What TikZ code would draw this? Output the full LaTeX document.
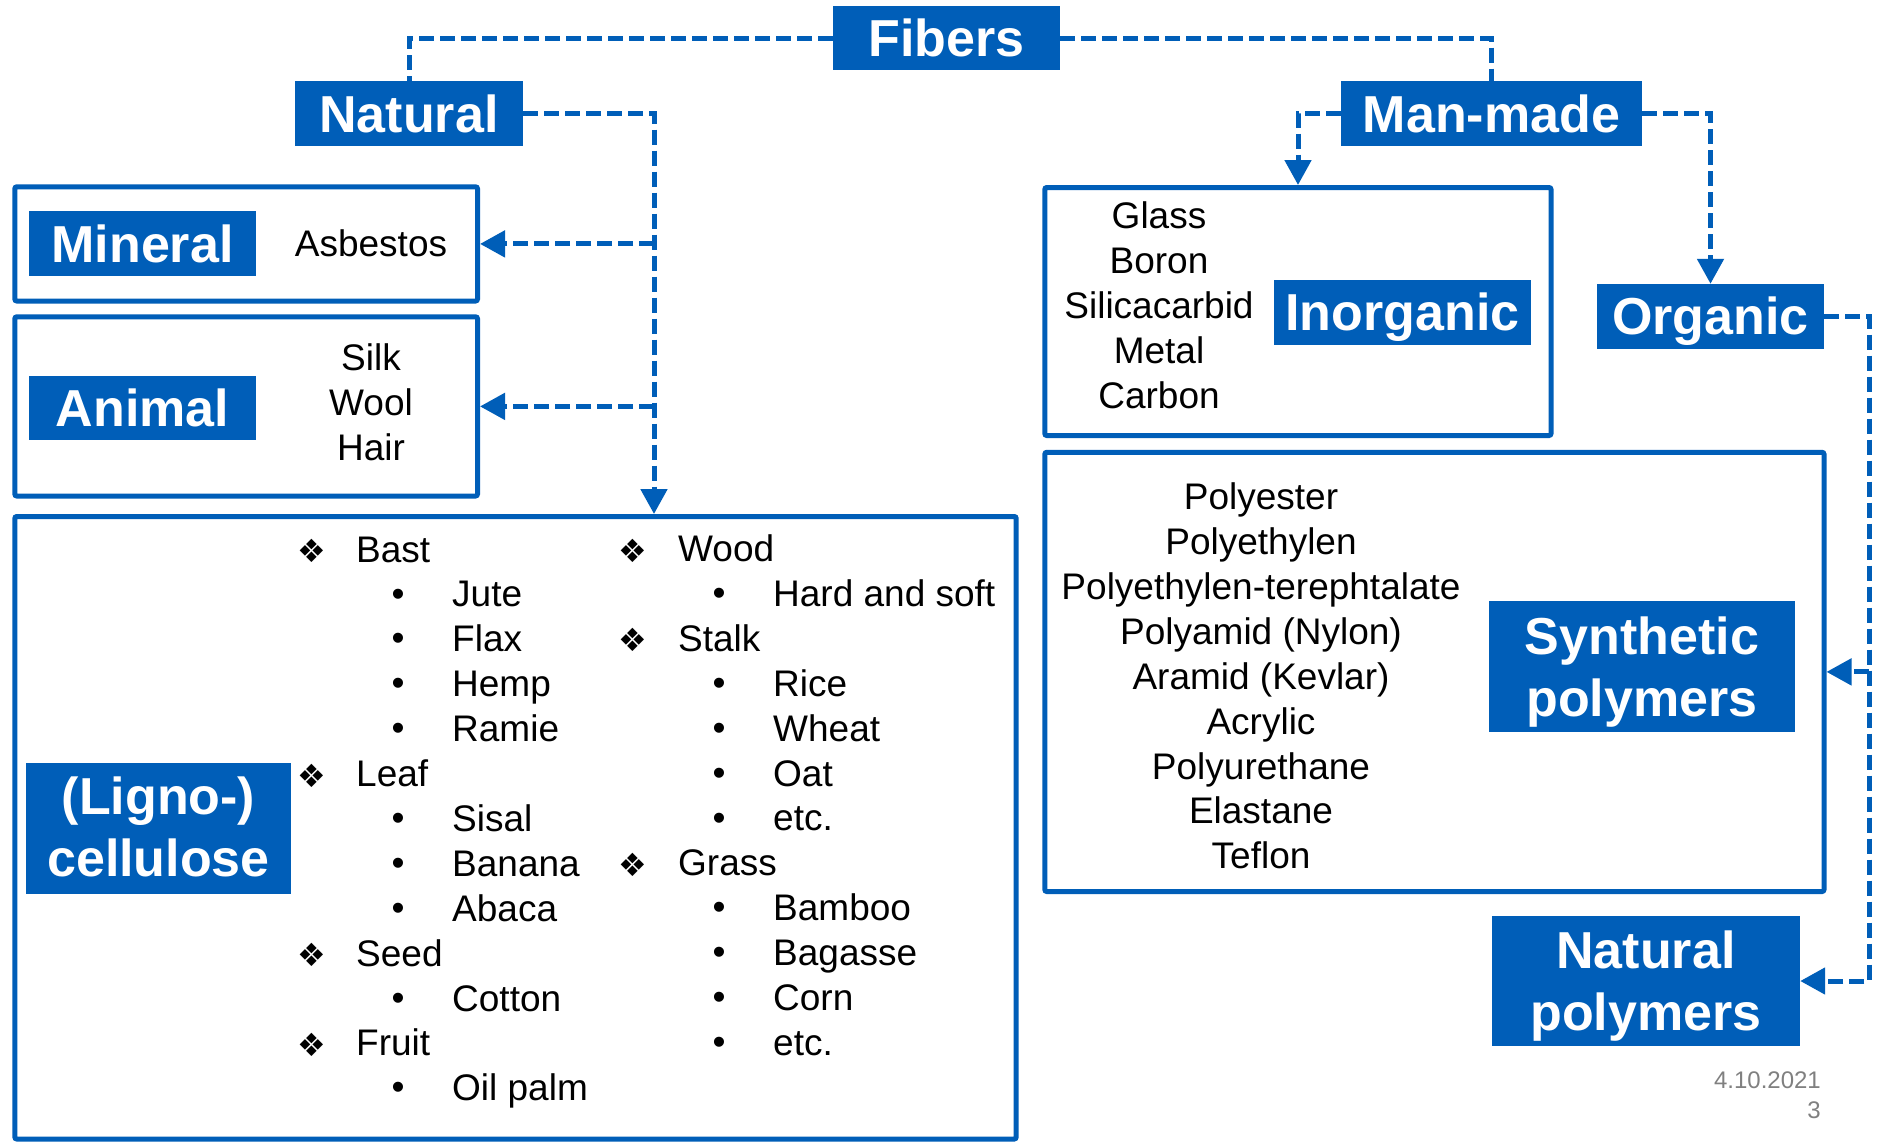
\documentclass[tikz,border=0pt]{standalone}
\usepackage{fontspec}
\setmainfont{Liberation Sans}
\newfontfamily\dejavu{DejaVu Sans}
\usetikzlibrary{arrows.meta}
\definecolor{fblue}{RGB}{0,94,184}
\definecolor{dategray}{RGB}{128,128,128}
\newcommand\capl[1]{\vphantom{N}\smash{#1}}
\tikzset{
  lab/.style={fill=fblue, text=white, inner sep=0pt, align=center,
    font=\fontsize{52pt}{62pt}\selectfont\bfseries},
  obox/.style={draw=fblue, line width=5pt, rounded corners=2pt, inner sep=0pt},
  conn/.style={draw=fblue, line width=5pt, dash pattern=on 15pt off 6pt},
  arr/.style={conn, -{Triangle[length=25pt,width=26pt]}},
  txt/.style={font=\fontsize{37pt}{45pt}\selectfont, inner sep=0pt},
  dia/.style={font=\dejavu\fontsize{32pt}{32pt}\selectfont, inner sep=0pt},
  bul/.style={font=\fontsize{37pt}{45pt}\selectfont, inner sep=0pt},
}
\begin{document}
\begin{tikzpicture}[x=1pt,y=-1pt]
\useasboundingbox (0,0) rectangle (1881,1143);
\fill[white] (0,0) rectangle (1881,1143);

% outline boxes
\node[obox, minimum width=462.7pt, minimum height=114.2pt] (minbox) at (246.15,243.9) {};
\node[obox, minimum width=462.7pt, minimum height=179.2pt] (anibox) at (246.15,406.4) {};
\node[obox, minimum width=1001.4pt, minimum height=622.5pt] (ligbox) at (515.5,827.75) {};
\node[obox, minimum width=506.2pt, minimum height=248pt] (inbox) at (1297.9,311.5) {};
\node[obox, minimum width=779.2pt, minimum height=439.2pt] (synbox) at (1434.4,671.9) {};

% labels
\node[lab, minimum width=227pt, minimum height=64pt] (fib) at (946.5,38) {Fibers};
\node[lab, minimum width=228pt, minimum height=65pt] (nat) at (409,113.5) {Natural};
\node[lab, minimum width=301pt, minimum height=65pt] (man) at (1491.5,113.5) {Man-made};
\node[lab, minimum width=227pt, minimum height=65pt] (min) at (142.5,243.5) {Mineral};
\node[lab, minimum width=227pt, minimum height=64pt] (ani) at (142.5,408) {Animal};
\node[lab, minimum width=265pt, minimum height=131pt] (lig) at (158.5,828) {\capl{(Ligno-)}\\cellulose};
\node[lab, minimum width=257pt, minimum height=65pt] (inorg) at (1402.5,312.5) {\capl{Inorganic}};
\node[lab, minimum width=227pt, minimum height=65pt] (org) at (1710.5,316.5) {\capl{Organic}};
\node[lab, minimum width=306pt, minimum height=131pt] (syn) at (1642,666.5) {Synthetic\\\smash{polymers}};
\node[lab, minimum width=308pt, minimum height=130pt] (npol) at (1646,981) {Natural\\\smash{polymers}};

% helper coordinates
\coordinate (trunk) at (654,114);
\coordinate (inin) at (1298,114);
\coordinate (otr) at (1869,316);

% connectors
\draw[conn] (fib.west) -| (nat.north);
\draw[conn] (fib.east) -| (man.north);
\draw[arr] (nat.east) -| (ligbox.north -| trunk);
\draw[arr] (minbox.east -| trunk) -- (minbox.east);
\draw[arr] (anibox.east -| trunk) -- (anibox.east);
\draw[arr] (man.west) -| (inbox.north -| inin);
\draw[arr] (man.east) -| (org.north);
\draw[arr] (org.east) -| (npol.east -| otr) -- (npol.east);
\draw[arr] (synbox.east -| otr) -- (synbox.east);

% mineral / animal texts
\node[txt, anchor=base] (asb) at (371,256) {Asbestos};
\node[txt, anchor=base] (silk) at (371,370) {Silk};
\node[txt, anchor=base] (wool) at (371,415) {Wool};
\node[txt, anchor=base] (hair) at (371,460) {Hair};

% lignocellulose lists
\foreach \r/\t in {0/Bast,5/Leaf,9/Seed,11/Fruit}{
  \node[dia] (da-\r) at (312,{562+44.9*\r-11}) {❖};
  \node[txt, anchor=base west] (ta-\r) at (356,{562+44.9*\r}) {\t};
}
\foreach \r/\t in {1/Jute,2/Flax,3/Hemp,4/Ramie,6/Sisal,7/Banana,8/Abaca,10/Cotton,12/Oil palm}{
  \node[bul] (ba-\r) at (398,{562+44.9*\r-9.5}) {•};
  \node[txt, anchor=base west] (sa-\r) at (452,{562+44.9*\r}) {\t};
}
\foreach \r/\t in {0/Wood,2/Stalk,7/Grass}{
  \node[dia] (db-\r) at (633,{561.5+44.9*\r-11}) {❖};
  \node[txt, anchor=base west] (tb-\r) at (678,{561.5+44.9*\r}) {\t};
}
\foreach \r/\t in {1/Hard and soft,3/Rice,4/Wheat,5/Oat,6/etc.,8/Bamboo,9/Bagasse,10/Corn,11/etc.}{
  \node[bul] (bb-\r) at (719,{561.5+44.9*\r-9.5}) {•};
  \node[txt, anchor=base west] (sb-\r) at (773,{561.5+44.9*\r}) {\t};
}

% inorganic list
\foreach \r/\t in {0/Glass,1/Boron,2/Silicacarbid,3/Metal,4/Carbon}{
  \node[txt, anchor=base] (inl-\r) at (1159,{228.8+44.8*\r}) {\t};
}

% synthetic list
\foreach \r/\t in {0/Polyester,1/Polyethylen,2/Polyethylen-terephtalate,3/Polyamid (Nylon),4/Aramid (Kevlar),5/Acrylic,6/Polyurethane,7/Elastane,8/Teflon}{
  \node[txt, anchor=base] (pl-\r) at (1261,{509.6+44.9*\r}) {\t};
}

% date
\node[anchor=base east, inner sep=0pt, text=dategray, font=\fontsize{24pt}{29pt}\selectfont] (date) at (1821,1088) {4.10.2021};
\node[anchor=base east, inner sep=0pt, text=dategray, font=\fontsize{24pt}{29pt}\selectfont] (page) at (1821,1118) {3};
\end{tikzpicture}
\end{document}
